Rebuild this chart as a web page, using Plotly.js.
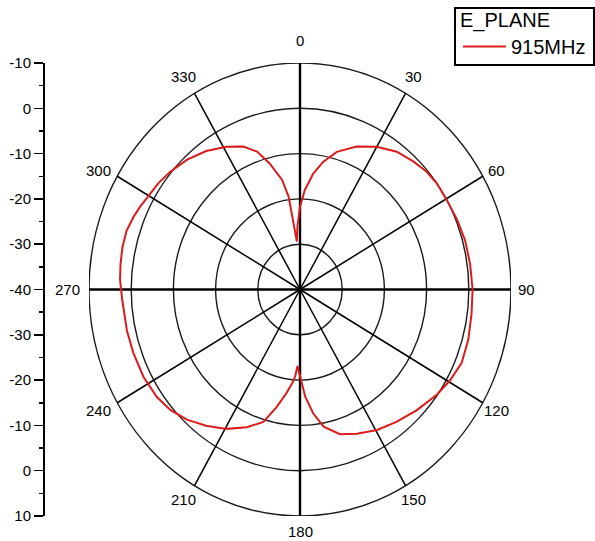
<!DOCTYPE html>
<html>
<head>
<meta charset="utf-8">
<script src="https://cdn.plot.ly/plotly-3.0.1.min.js"></script>
<style>
html,body{margin:0;padding:0;background:#fff;}
#chart{width:595px;height:541px;}
</style>
</head>
<body>
<div id="chart"></div>
<script>
// ---- data (angle in degrees clockwise from top, gain in dB) ----
const seriesName = '915MHz';
const legendTitle = 'E_PLANE';
const thetaDeg = [-4, -2.5, 0, 3, 7, 11, 16, 23, 30, 37, 43.5, 49, 54, 60, 67.5, 74.5, 82, 90,
  97.5, 105.5, 113, 119.5, 125.5, 134, 142, 149.5, 157, 163.5, 169.5, 173.5, 177, 180, 182,
  183.5, 185, 188, 192, 196.5, 202.5, 209.5, 216.5, 223, 229, 235, 242.5, 250.5, 257.5, 267,
  273, 277.5, 282.5, 287.5, 292, 295.5, 299.5, 305, 310, 317, 324, 331, 337, 341.5, 345.5,
  350, 352.5, 353.5, 355, 356];
const gainDb = [-29.4, -26.1, -21.7, -18.0, -14.2, -11.3, -8.4, -5.7, -3.6, -1.9, -1.0, -0.3, 0.0, 0.0, 0.3, 0.6, 0.7, 0.9,
  1.0, 1.4, 1.6, 0.8, -0.1, -1.6, -2.9, -4.0, -5.4, -6.7, -9.2, -12.5, -16.3, -20.7, -23.1,
  -20.7, -19.3, -16.9, -13.5, -9.5, -7.1, -4.65, -2.6, -0.7, 0.6, 1.4, 1.8, 1.9, 2.0, 2.2,
  2.7, 2.9, 3.1, 3.1, 2.6, 2.1, 1.4, 0.95, 0.3, -0.8, -2.2, -4.0, -5.7, -7.9, -11.25,
  -15.4, -19.3, -23.1, -26.8, -29.4];
const radialMin = -40;          // value at the centre
const radialMax = 10;           // value at the outer ring
const ringLevels = [-30, -20, -10, 0, 10];
const spokeAngles = [0, 30, 60, 90, 120, 150, 180, 210, 240, 270, 300, 330];
const angleLabels = ['0', '30', '60', '90', '120', '150', '180', '210', '240', '270', '300', '330'];
const scaleTickText = ['10', '0', '-10', '-20', '-30', '-40', '-30', '-20', '-10', '0', '-10'];

// ---- geometry helpers (polar -> the chart's linear axes) ----
const span = radialMax - radialMin;
const rad = d => d * Math.PI / 180;
const toX = (t, r) => (r - radialMin) * Math.sin(rad(t));
const toY = (t, r) => (r - radialMin) * Math.cos(rad(t));
const scaleTickVals = [];
for (let v = -span; v <= span + 1e-9; v += 10) scaleTickVals.push(v);

const FONT = 'Liberation Sans, Arial, Helvetica, sans-serif';

const trace = {
  type: 'scatter', mode: 'lines', name: seriesName,
  x: thetaDeg.map((t, i) => toX(t, gainDb[i])),
  y: thetaDeg.map((t, i) => toY(t, gainDb[i])),
  line: {color: '#dc1c1c', width: 2},
  hoverinfo: 'skip', showlegend: true
};

const shapes = [];
ringLevels.forEach(lv => {
  const rr = lv - radialMin;
  shapes.push({type: 'circle', xref: 'x', yref: 'y', x0: -rr, x1: rr, y0: -rr, y1: rr,
    line: {color: '#1a1a1a', width: 1.4}, layer: 'below'});
});
spokeAngles.forEach(a => {
  const main = a % 90 === 0;
  shapes.push({type: 'line', xref: 'x', yref: 'y', x0: 0, y0: 0,
    x1: toX(a, radialMax), y1: toY(a, radialMax),
    line: {color: '#000', width: main ? 2.4 : 1.5}, layer: 'below'});
});
// legend frame
shapes.push({type: 'rect', xref: 'paper', yref: 'paper',
  x0: 455 / 595, x1: 594 / 595, y0: 1 - 65 / 541, y1: 1 - 8 / 541,
  line: {color: '#000', width: 2}, fillcolor: '#fff', layer: 'below'});

const annotations = spokeAngles.map((a, i) => {
  const s = Math.sin(rad(a)), c = Math.cos(rad(a));
  return {
    xref: 'x', yref: 'y', x: toX(a, radialMax - 0.01), y: toY(a, radialMax - 0.01),
    xshift: s > 0 ? 16 * s : 22 * s, yshift: c > 0 ? 23 * c * c : 16 * c,
    text: angleLabels[i], showarrow: false,
    font: {family: FONT, size: 15, color: '#000'}
  };
});

const layout = {
  width: 595, height: 541,
  margin: {l: 0, r: 0, t: 0, b: 0},
  paper_bgcolor: '#fff', plot_bgcolor: 'rgba(0,0,0,0)',
  font: {family: FONT, color: '#000'},
  xaxis: {domain: [89 / 595, 511 / 595], range: [-span, span], visible: false, fixedrange: true},
  yaxis: {domain: [25 / 541, 478 / 541], range: [-span, span], anchor: 'free', position: 43 / 595,
    showgrid: false, zeroline: false, showline: true, linecolor: '#000', linewidth: 1.5,
    ticks: 'outside', ticklen: 9, tickwidth: 1.5, tickcolor: '#000',
    tickvals: scaleTickVals, ticktext: scaleTickText,
    tickfont: {family: FONT, size: 15, color: '#000'},
    minor: {dtick: 5, ticks: 'outside', ticklen: 4, tickwidth: 1.5, tickcolor: '#000', showgrid: false},
    fixedrange: true},
  shapes: shapes,
  annotations: annotations,
  showlegend: true,
  legend: {x: 458 / 595, y: 1 - 1 / 541, xanchor: 'left', yanchor: 'top',
    bgcolor: 'rgba(0,0,0,0)', bordercolor: '#000', borderwidth: 0,
    font: {family: FONT, size: 20, color: '#000'},
    title: {text: legendTitle, font: {family: FONT, size: 20, color: '#000'}},
    itemwidth: 43, tracegroupgap: 0}
};

Plotly.newPlot('chart', [trace], layout, {displayModeBar: false, staticPlot: true});
</script>
</body>
</html>
